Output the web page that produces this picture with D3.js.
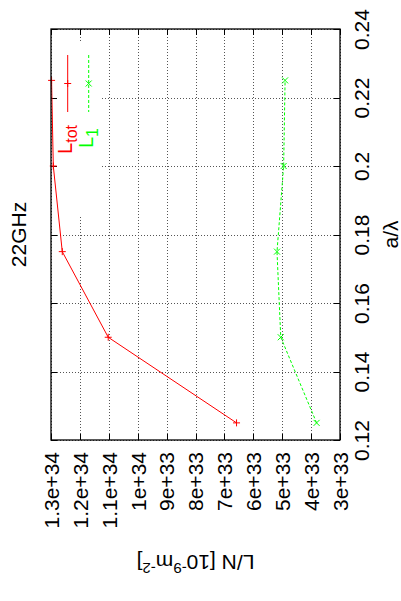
<!DOCTYPE html>
<meta charset="utf-8">
<style>
body { margin: 0; background: #fff; }
text { font-family: "Liberation Sans", Arial, sans-serif; }
.grid line { stroke: #555; stroke-dasharray: 1,2; shape-rendering: crispEdges; }
.grid path { display: none; }
.ticks path { display: none; }
.ticks line { stroke: #000; shape-rendering: crispEdges; }
</style>
<svg width="401" height="601"></svg>
<script src="https://d3js.org/d3.v7.min.js"></script>
<script>

// a/lambda values and the two series (L/N in 10^-9 m^-2)
var aLambda = [0.125, 0.15, 0.175, 0.2, 0.225];
var lTot = [6.58e33, 1.102e34, 1.261e34, 1.292e34, 1.298e34];
var l1 = [3.81e33, 5.05e33, 5.18e33, 4.95e33, 4.90e33];

var lnTicks = [1.3e34, 1.2e34, 1.1e34, 1e34, 9e33, 8e33, 7e33, 6e33, 5e33, 4e33, 3e33];
var lnLabels = ["1.3e+34", "1.2e+34", "1.1e+34", "1e+34", "9e+33", "8e+33", "7e+33", "6e+33", "5e+33", "4e+33", "3e+33"];
var aTicks = [0.12, 0.14, 0.16, 0.18, 0.2, 0.22, 0.24];
var aLabels = ["0.12", "0.14", "0.16", "0.18", "0.2", "0.22", "0.24"];

var svg = d3.select("svg"),
    pl = 51, pr = 340, pt = 29, pb = 440;

var x = d3.scaleLinear().domain([1.3e34, 3e33]).range([pl, pr]),
    y = d3.scaleLinear().domain([0.12, 0.24]).range([pb, pt]);

// grid
svg.append("g")
    .attr("class", "grid")
    .attr("transform", "translate(0," + pb + ")")
    .call(d3.axisBottom(x).tickValues(lnTicks).tickSize(-(pb - pt)).tickFormat(""));
svg.append("g")
    .attr("class", "grid")
    .attr("transform", "translate(" + pl + ",0)")
    .call(d3.axisLeft(y).tickValues(aTicks).tickSize(-(pr - pl)).tickFormat(""));

// key box clears the grid
svg.append("rect")
    .attr("x", pl + 1).attr("y", 42)
    .attr("width", 48).attr("height", 173)
    .attr("fill", "#fff");

// inward ticks on all sides, labels bottom and right
var fmtLn = function(d) { return lnLabels[lnTicks.indexOf(d)]; },
    fmtA = function(d) { return aLabels[aTicks.indexOf(d)]; };

var gb = svg.append("g")
    .attr("class", "ticks")
    .attr("transform", "translate(0," + pb + ")")
    .call(d3.axisBottom(x).tickValues(lnTicks).tickSize(-6).tickSizeOuter(0).tickFormat(fmtLn));
gb.selectAll("text")
    .attr("x", -12).attr("y", 0).attr("dy", "0.35em")
    .attr("transform", "rotate(-90)")
    .style("text-anchor", "end");

svg.append("g")
    .attr("class", "ticks")
    .attr("transform", "translate(0," + pt + ")")
    .call(d3.axisTop(x).tickValues(lnTicks).tickSize(-6).tickSizeOuter(0).tickFormat(""));

svg.append("g")
    .attr("class", "ticks")
    .attr("transform", "translate(" + pl + ",0)")
    .call(d3.axisLeft(y).tickValues(aTicks).tickSize(-6).tickSizeOuter(0).tickFormat(""));

var gr = svg.append("g")
    .attr("class", "ticks")
    .attr("transform", "translate(" + pr + ",0)")
    .call(d3.axisRight(y).tickValues(aTicks).tickSize(-6).tickSizeOuter(0).tickFormat(fmtA));
gr.selectAll("text")
    .attr("x", 0).attr("y", 0).attr("dy", "0.35em")
    .attr("transform", "translate(22,0) rotate(-90)")
    .style("text-anchor", "middle");

svg.selectAll(".ticks text")
    .attr("font-size", 21)
    .attr("fill", "#000");

// data
var line = d3.line()
    .x(function(d) { return x(d.v); })
    .y(function(d) { return y(d.a); });

var plus = "M-3.5,0H3.5M0,-3.5V3.5",
    cross = "M-3,-3L3,3M-3,3L3,-3";

var series = [
  { values: lTot, color: "#ff0000", dash: null, marker: plus },
  { values: l1, color: "#00ff00", dash: "3,2", marker: cross }
];

series.forEach(function(s) {
  var pts = aLambda.map(function(a, i) { return { a: a, v: s.values[i] }; });
  svg.append("path")
      .datum(pts)
      .attr("fill", "none")
      .attr("stroke", s.color)
      .attr("stroke-width", 1)
      .attr("stroke-dasharray", s.dash)
      .attr("d", line);
  svg.selectAll(null)
      .data(pts)
      .enter().append("path")
      .attr("transform", function(d) { return "translate(" + x(d.v) + "," + y(d.a) + ")"; })
      .attr("d", s.marker)
      .attr("stroke", s.color)
      .attr("fill", "none");
});

// key
var key = [
  { label: "L", sub: "tot", color: "#ff0000", dash: null, marker: plus, kx: 67.7, ty: 125 },
  { label: "L", sub: "1", color: "#00ff00", dash: "3,2", marker: cross, kx: 88.7, ty: 128 }
];
key.forEach(function(k) {
  svg.append("line")
      .attr("x1", k.kx).attr("x2", k.kx)
      .attr("y1", 55).attr("y2", 112)
      .attr("stroke", k.color)
      .attr("stroke-dasharray", k.dash);
  svg.append("path")
      .attr("transform", "translate(" + k.kx + ",83.5)")
      .attr("d", k.marker)
      .attr("stroke", k.color)
      .attr("fill", "none");
  var t = svg.append("text")
      .attr("transform", "translate(" + (k.kx + 4.5) + "," + k.ty + ") rotate(-90)")
      .attr("font-size", 20)
      .attr("fill", k.color)
      .style("text-anchor", "end");
  t.append("tspan").text(k.label);
  t.append("tspan").attr("dy", 5).attr("font-size", 16).text(k.sub);
});

// frame
svg.append("rect")
    .attr("x", pl).attr("y", pt)
    .attr("width", pr - pl).attr("height", pb - pt)
    .attr("fill", "none")
    .attr("stroke", "#000")
    .attr("stroke-width", 1.3);

// title and axis labels
svg.append("text")
    .attr("transform", "translate(19," + (pt + pb) / 2 + ") rotate(-90)")
    .attr("dy", "0.35em")
    .attr("font-size", 21)
    .style("text-anchor", "middle")
    .text("22GHz");

svg.append("text")
    .attr("transform", "translate(391," + (pt + pb) / 2 + ") rotate(-90)")
    .attr("dy", "0.35em")
    .attr("font-size", 21)
    .style("text-anchor", "middle")
    .text("a/\u03bb");

var yl = svg.append("text")
    .attr("transform", "translate(" + (pl + pr) / 2 + ",555) rotate(180)")
    .attr("font-size", 21)
    .style("text-anchor", "middle");
yl.append("tspan").text("L/N [10");
yl.append("tspan").attr("dy", -8).attr("font-size", 15).text("-9");
yl.append("tspan").attr("dy", 8).text("m");
yl.append("tspan").attr("dy", -8).attr("font-size", 15).text("-2");
yl.append("tspan").attr("dy", 8).text("]");

</script>
